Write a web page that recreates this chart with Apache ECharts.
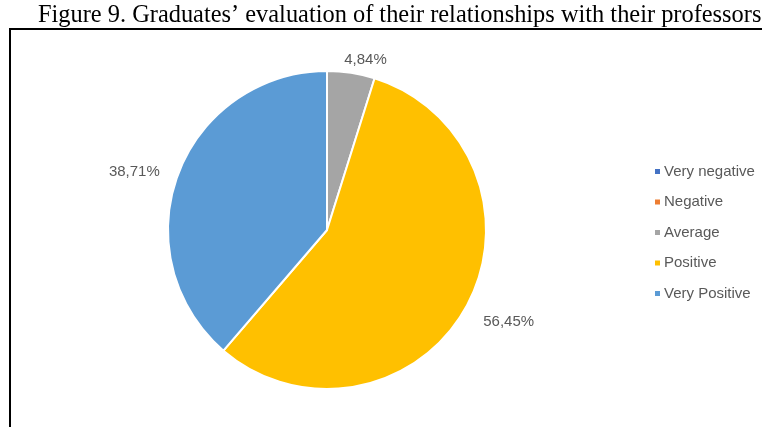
<!DOCTYPE html>
<html>
<head>
<meta charset="utf-8">
<title>Figure 9</title>
<script src="https://cdn.jsdelivr.net/npm/echarts@6/dist/echarts.min.js"></script>
<style>
  html, body { margin: 0; padding: 0; background: #fff; }
  #main { width: 767px; height: 427px; }
</style>
</head>
<body>
<div id="main"></div>
<script>
  // data (percent of graduates)
  var categories = ['Very negative', 'Negative', 'Average', 'Positive', 'Very Positive'];
  var shares = [0, 0, 4.84, 56.45, 38.71];
  var colors = ['#4472C4', '#ED7D31', '#A5A5A5', '#FFC000', '#5B9BD5'];
  // small nudges so the outside labels sit where Excel put them
  var labelNudge = [null, null, [-14, 1], [0, 8], [0, 2]];

  var pieData = [];
  for (var i = 0; i < categories.length; i++) {
    var item = { name: categories[i], value: shares[i], itemStyle: { color: colors[i] } };
    if (shares[i] === 0) item.label = { show: false };
    else if (labelNudge[i]) item.label = { offset: labelNudge[i] };
    pieData.push(item);
  }

  var chart = echarts.init(document.getElementById('main'));
  var option = {
    animation: false,
    title: {
      text: 'Figure 9. Graduates\u2019 evaluation of their relationships with their professors',
      left: 38,
      top: 4,
      padding: 0,
      textStyle: { fontFamily: 'Liberation Serif', fontSize: 24.4, fontWeight: 'normal', color: '#000' }
    },
    legend: {
      orient: 'vertical',
      left: 648,
      top: 159,
      icon: 'rect',
      itemWidth: 7,
      itemHeight: 7,
      itemGap: 15.5,
      selectedMode: false,
      data: categories,
      textStyle: { fontFamily: 'Liberation Sans', fontSize: 15, color: '#595959', padding: [0, 0, 0, -2] }
    },
    graphic: [{
      type: 'polyline',
      shape: { points: [[10, 440], [10, 29], [762, 29]] },
      style: { stroke: '#000', lineWidth: 2, fill: null },
      silent: true
    }],
    series: [{
      type: 'pie',
      center: [327, 230],
      radius: 159,
      startAngle: 90,
      clockwise: true,
      avoidLabelOverlap: false,
      itemStyle: { borderColor: '#fff', borderWidth: 2 },
      label: {
        show: true,
        position: 'outside',
        fontFamily: 'Liberation Sans',
        fontSize: 15,
        color: '#595959',
        formatter: function (p) {
          return p.value.toFixed(2).replace('.', ',') + '%';
        }
      },
      labelLine: { show: false, length: 14, length2: 0 },
      data: pieData
    }]
  };
  chart.setOption(option);
</script>
</body>
</html>
